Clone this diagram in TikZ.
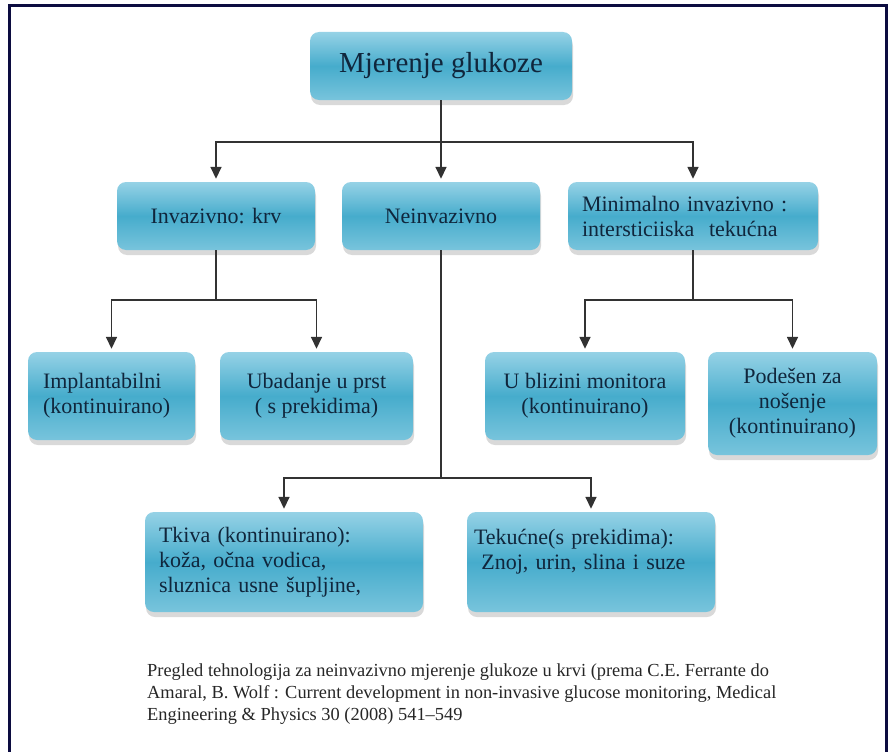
\documentclass[tikz,border=0pt]{standalone}
\usepackage{fontspec}
\setmainfont{Liberation Serif}
\usepackage{tikz}
\usetikzlibrary{arrows.meta,shadows}
\definecolor{boxtop}{RGB}{150,210,230}
\definecolor{boxmid}{RGB}{70,172,204}
\definecolor{boxbot}{RGB}{120,196,220}
\definecolor{boxtext}{RGB}{16,38,60}
\definecolor{framec}{RGB}{12,12,64}
\definecolor{wirec}{RGB}{50,50,50}

\begin{document}
\begin{tikzpicture}[x=1pt,y=-1pt,
	box/.style={rounded corners=9pt,top color=boxtop,bottom color=boxbot,middle color=boxmid,
		text=boxtext,inner sep=4pt,drop shadow={shadow xshift=1pt,shadow yshift=-5pt,opacity=.3}},
	big/.style={font=\fontsize{29}{34}\selectfont},
	mid/.style={font=\fontsize{22}{25}\selectfont},
	wire/.style={draw=wirec,line width=1.6pt},
	>={Triangle[width=11pt,length=12pt]}]
	\useasboundingbox (0,0) rectangle (894,752);
	\draw[framec,line width=3pt] (9.5,752) -- (9.5,6) -- (886,6) -- (886,752);
	%
	\node[box,big,minimum width=262pt,minimum height=68pt] (G) at (441,66) {Mjerenje glukoze};
	%
	\node[box,mid,minimum width=198pt,minimum height=68pt] (I) at (216,216) {Invazivno: krv};
	\node[box,mid,minimum width=198pt,minimum height=68pt] (N) at (441,216) {Neinvazivno};
	\node[box,mid,minimum width=250pt,minimum height=68pt,text width=222pt,align=left] (M) at (693,216)
		{Minimalno invazivno :\\intersticiiska\ \ tekućna};
	%
	\node[box,mid,minimum width=167pt,minimum height=88pt,text width=137pt,align=left] (IM) at (111.5,396)
		{Implantabilni\\(kontinuirano)};
	\node[box,mid,minimum width=193pt,minimum height=88pt,align=center] (UB) at (316.5,396)
		{Ubadanje u prst\\( s prekidima)};
	\node[box,mid,minimum width=200pt,minimum height=88pt,align=center] (UM) at (585,396)
		{U blizini monitora\\(kontinuirano)};
	\node[box,mid,minimum width=169pt,minimum height=103pt,align=center] (PO) at (792.5,403.5)
		{Podešen za\\nošenje\\(kontinuirano)};
	%
	\node[box,mid,minimum width=278pt,minimum height=100pt,text width=250pt,align=left] (TK) at (284,562)
		{Tkiva (kontinuirano):\\koža, očna vodica,\\sluznica usne šupljine,};
	\node[box,mid,minimum width=248pt,minimum height=100pt,text width=234pt,align=left] (TE) at (591,562)
		{Tekućne(s prekidima):\\\ Znoj, urin, slina i suze\\~};
	%
	\coordinate (j1) at (441,142);
	\coordinate (j2) at (216,300);
	\coordinate (j3) at (693,300);
	\coordinate (j4) at (441,478);
	%
	\draw[wire] (G) -- (j1);
	\draw[wire,->,shorten >=3pt] (j1) -| (I);
	\draw[wire,->,shorten >=3pt] (j1) -- (N);
	\draw[wire,->,shorten >=3pt] (j1) -| (M);
	%
	\draw[wire] (I) -- (j2);
	\draw[wire,->,shorten >=3pt] (j2) -| (IM);
	\draw[wire,->,shorten >=3pt] (j2) -| (UB);
	\draw[wire] (M) -- (j3);
	\draw[wire,->,shorten >=3pt] (j3) -| (UM);
	\draw[wire,->,shorten >=3pt] (j3) -| (PO);
	\draw[wire] (N) -- (j4);
	\draw[wire,->,shorten >=3pt] (j4) -| (TK);
	\draw[wire,->,shorten >=3pt] (j4) -| (TE);
	%
	\node[anchor=north west,align=left,inner sep=0pt,text=black!85,
		font=\fontsize{18.4}{22}\selectfont] (cap) at (147,664)
		{Pregled tehnologija za neinvazivno mjerenje glukoze u krvi (prema C.E. Ferrante do\\
		Amaral, B. Wolf : Current development in non-invasive glucose monitoring, Medical\\
		Engineering \& Physics 30 (2008) 541–549};
\end{tikzpicture}
\end{document}
